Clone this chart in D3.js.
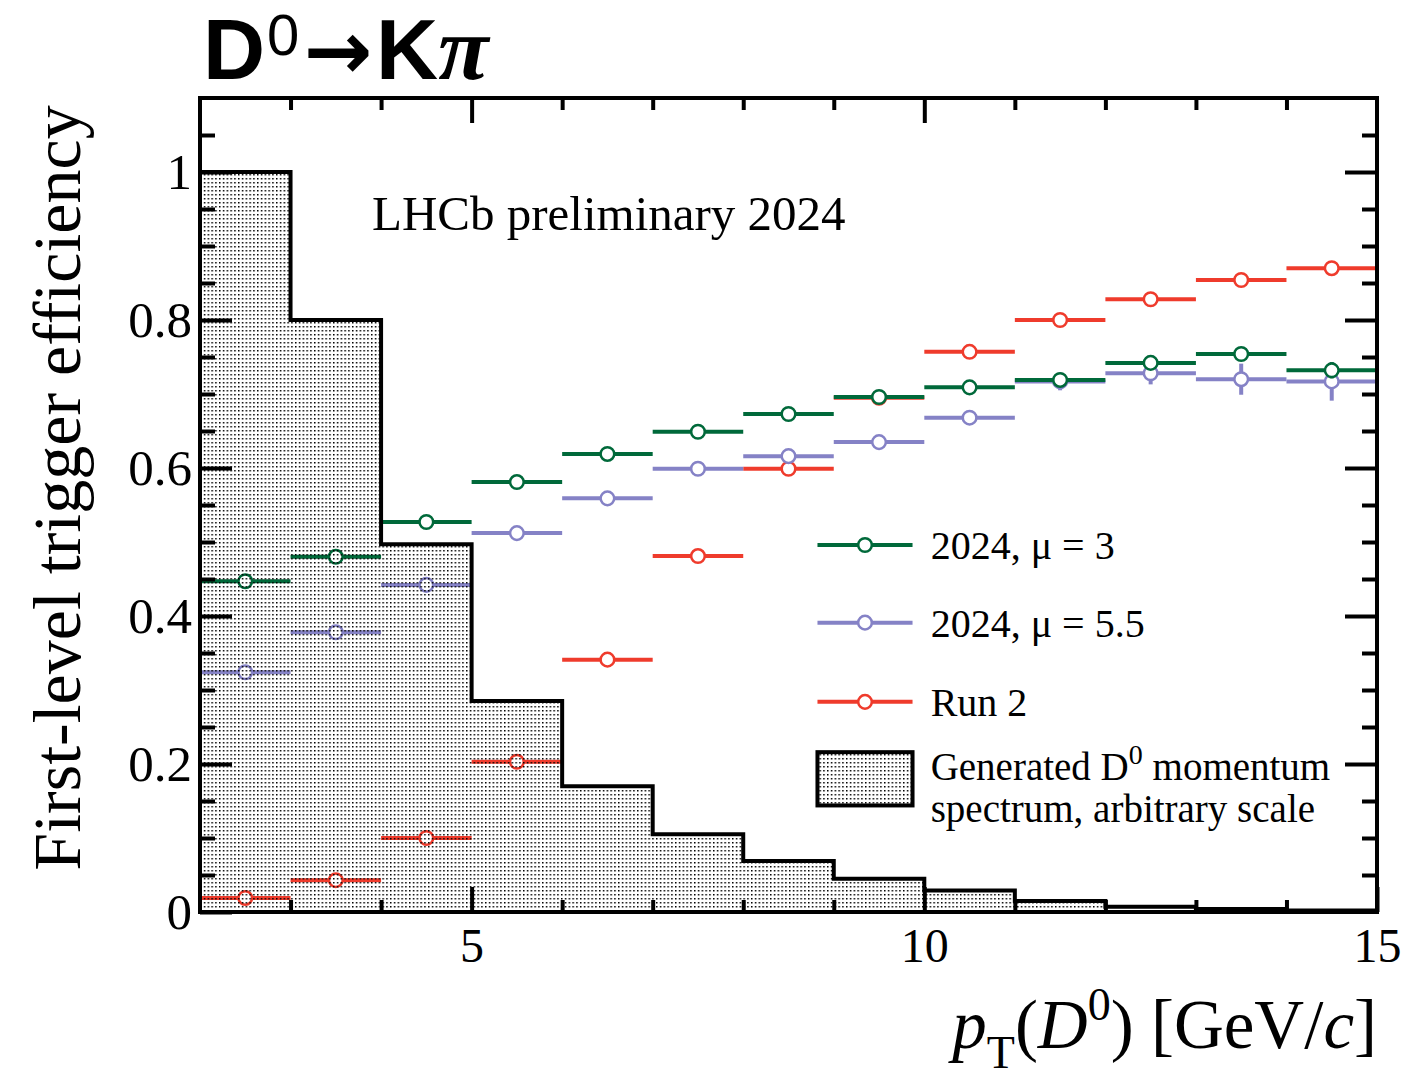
<!DOCTYPE html>
<html>
<head>
<meta charset="utf-8">
<script src="https://cdn.jsdelivr.net/npm/d3@7"></script>
<style>
  body { margin: 0; background: #fff; }
  svg text { font-family: "Liberation Serif", "Times New Roman", serif; fill: #000; }
</style>
</head>
<body>
<div id="chart"></div>
<script>
// bin edges in pT [GeV/c]
var binEdges = [2, 3, 4, 5, 6, 7, 8, 9, 10, 11, 12, 13, 14, 15];
// generated D0 spectrum, arbitrary scale
var histValues = [1.0, 0.8, 0.497, 0.285, 0.170, 0.105, 0.069, 0.045, 0.029, 0.015, 0.007, 0.004, 0.002];
// efficiencies per bin
var mu3Values = [0.447, 0.480, 0.527, 0.581, 0.619, 0.649, 0.673, 0.696, 0.709, 0.719, 0.742, 0.754, 0.732];
var mu3Errors = [0.004, 0.004, 0.004, 0.004, 0.004, 0.004, 0.005, 0.005, 0.006, 0.006, 0.008, 0.009, 0.011];
var mu55Values = [0.324, 0.378, 0.442, 0.512, 0.559, 0.599, 0.616, 0.635, 0.668, 0.717, 0.728, 0.720, 0.717];
var mu55Errors = [0.004, 0.004, 0.004, 0.004, 0.004, 0.005, 0.005, 0.006, 0.008, 0.012, 0.015, 0.021, 0.026];
var run2Values = [0.019, 0.043, 0.100, 0.203, 0.341, 0.481, 0.599, 0.695, 0.757, 0.800, 0.828, 0.854, 0.870];
var run2Errors = [0.002, 0.002, 0.002, 0.002, 0.002, 0.002, 0.003, 0.003, 0.003, 0.003, 0.004, 0.004, 0.005];

var seriesNames = ["2024, \u03bc = 3", "2024, \u03bc = 5.5", "Run 2"];
var seriesColors = ["#00693a", "#8582c6", "#ef3b2c"];
var yTickLabels = ["0", "0.2", "0.4", "0.6", "0.8", "1"];
var xTickLabels = ["5", "10", "15"];

var svgWidth = 1411;
var svgHeight = 1076;
var margin = {top: 98, right: 34, bottom: 164, left: 200};
var width = svgWidth - margin.left - margin.right;
var height = svgHeight - margin.top - margin.bottom;

var svg = d3.select("#chart")
    .append("svg")
    .attr("width", svgWidth)
    .attr("height", svgHeight);

var defs = svg.append("defs");
var pat = defs.append("pattern")
    .attr("id", "dots")
    .attr("patternUnits", "userSpaceOnUse")
    .attr("width", 3.8)
    .attr("height", 4);
pat.append("rect").attr("x", 0).attr("y", 0).attr("width", 1.5).attr("height", 1.5).attr("fill", "#000");

var chartGroup = svg.append("g")
    .attr("transform", `translate(${margin.left},${margin.top})`);

var xScale = d3.scaleLinear().domain([2, 15]).range([0, width]);
var yScale = d3.scaleLinear().domain([0, 1.1]).range([height, 0]);

// data series, drawn below the histogram
var seriesData = [
    {values: mu3Values, errors: mu3Errors},
    {values: mu55Values, errors: mu55Errors},
    {values: run2Values, errors: run2Errors}
];
// red first, then purple, then green on top
[2, 1, 0].forEach(function(si) {
    var s = seriesData[si];
    var col = seriesColors[si];
    var rows = s.values.map(function(v, i) {
        return {lo: binEdges[i], hi: binEdges[i + 1], v: v, e: s.errors[i]};
    });
    var g = chartGroup.append("g");
    g.selectAll("line.h").data(rows).enter().append("line")
        .attr("x1", d => xScale(d.lo))
        .attr("x2", d => xScale(d.hi))
        .attr("y1", d => yScale(d.v))
        .attr("y2", d => yScale(d.v))
        .attr("stroke", col).attr("stroke-width", 4);
    g.selectAll("line.v").data(rows).enter().append("line")
        .attr("x1", d => xScale((d.lo + d.hi) / 2))
        .attr("x2", d => xScale((d.lo + d.hi) / 2))
        .attr("y1", d => yScale(d.v - d.e))
        .attr("y2", d => yScale(d.v + d.e))
        .attr("stroke", col).attr("stroke-width", 4);
    g.selectAll("circle").data(rows).enter().append("circle")
        .attr("cx", d => xScale((d.lo + d.hi) / 2))
        .attr("cy", d => yScale(d.v))
        .attr("r", 6.8)
        .attr("fill", "#fff")
        .attr("stroke", col).attr("stroke-width", 2.5);
});

// histogram
var histPts = histValues.map(function(v, i) { return {x: binEdges[i], v: v}; });
histPts.push({x: binEdges[binEdges.length - 1], v: histValues[histValues.length - 1]});

var area = d3.area().curve(d3.curveStepAfter)
    .x(d => xScale(d.x)).y0(yScale(0)).y1(d => yScale(d.v));
chartGroup.append("path").datum(histPts)
    .attr("d", area).attr("fill", "url(#dots)");

var stepLine = d3.line().curve(d3.curveStepAfter)
    .x(d => xScale(d.x)).y(d => yScale(d.v));
chartGroup.append("path").datum(histPts)
    .attr("d", stepLine).attr("fill", "none")
    .attr("stroke", "#000").attr("stroke-width", 4);

// axes - ticks inward on all four sides
function styleAxis(sel) {
    sel.select(".domain").remove();
    sel.selectAll(".tick line").attr("stroke", "#000").attr("stroke-width", 4);
    sel.selectAll("text").attr("font-size", 48).attr("font-family", "Liberation Serif");
}
var minorX = d3.range(3, 15, 1).filter(v => v % 5 !== 0);
var minorY = d3.range(0.05, 1.1, 0.05).filter(v => Math.abs(v * 5 - Math.round(v * 5)) > 1e-6);

chartGroup.append("g").attr("transform", `translate(0,${height})`)
    .call(d3.axisBottom(xScale).tickValues(minorX).tickSize(-12).tickFormat(""))
    .call(styleAxis);
chartGroup.append("g").attr("transform", `translate(0,${height})`)
    .call(d3.axisBottom(xScale).tickValues([5, 10, 15]).tickSize(-25).tickPadding(14)
        .tickFormat((d, i) => xTickLabels[i]))
    .call(styleAxis)
    .selectAll("text").attr("dy", "0.75em");
chartGroup.append("g")
    .call(d3.axisTop(xScale).tickValues(minorX).tickSize(-12).tickFormat(""))
    .call(styleAxis);
chartGroup.append("g")
    .call(d3.axisTop(xScale).tickValues([5, 10]).tickSize(-25).tickFormat(""))
    .call(styleAxis);

chartGroup.append("g")
    .call(d3.axisLeft(yScale).tickValues(minorY).tickSize(-15).tickFormat(""))
    .call(styleAxis);
chartGroup.append("g")
    .call(d3.axisLeft(yScale).tickValues([0, 0.2, 0.4, 0.6, 0.8, 1]).tickSize(-32).tickPadding(8)
        .tickFormat((d, i) => yTickLabels[i]))
    .call(styleAxis)
    .selectAll("text").attr("font-size", 51);
chartGroup.append("g").attr("transform", `translate(${width},0)`)
    .call(d3.axisRight(yScale).tickValues(minorY).tickSize(-15).tickFormat(""))
    .call(styleAxis);
chartGroup.append("g").attr("transform", `translate(${width},0)`)
    .call(d3.axisRight(yScale).tickValues([0.2, 0.4, 0.6, 0.8, 1]).tickSize(-32).tickFormat(""))
    .call(styleAxis);

// frame
chartGroup.append("rect")
    .attr("x", 0).attr("y", 0).attr("width", width).attr("height", height)
    .attr("fill", "none").attr("stroke", "#000").attr("stroke-width", 4);

// LHCb label
chartGroup.append("text")
    .attr("x", xScale(3.9)).attr("y", yScale(0.922))
    .attr("font-size", 49)
    .text("LHCb preliminary 2024");

// legend
var legX0 = xScale(8.82), legX1 = xScale(9.87), legTx = xScale(10.07);
var legRows = [0.496, 0.391, 0.284];
legRows.forEach(function(ly, i) {
    var yy = yScale(ly);
    chartGroup.append("line").attr("x1", legX0).attr("x2", legX1)
        .attr("y1", yy).attr("y2", yy)
        .attr("stroke", seriesColors[i]).attr("stroke-width", 4);
    chartGroup.append("circle").attr("cx", (legX0 + legX1) / 2).attr("cy", yy).attr("r", 6.8)
        .attr("fill", "#fff").attr("stroke", seriesColors[i]).attr("stroke-width", 2.5);
    chartGroup.append("text").attr("x", legTx).attr("y", yy + 14)
        .attr("font-size", 40).text(seriesNames[i]);
});
chartGroup.append("rect")
    .attr("x", legX0).attr("y", yScale(0.216))
    .attr("width", legX1 - legX0).attr("height", yScale(0.144) - yScale(0.216))
    .attr("fill", "url(#dots)").attr("stroke", "#000").attr("stroke-width", 4);
var gen = chartGroup.append("text").attr("x", legTx).attr("y", yScale(0.178)).attr("font-size", 39);
gen.append("tspan").text("Generated D");
gen.append("tspan").attr("dy", -16).attr("font-size", 28).text("0");
gen.append("tspan").attr("dy", 16).text(" momentum");
chartGroup.append("text").attr("x", legTx).attr("y", yScale(0.122)).attr("font-size", 39)
    .text("spectrum, arbitrary scale");

// y label
svg.append("text")
    .attr("transform", "translate(80,488) rotate(-90)")
    .attr("text-anchor", "middle")
    .attr("font-size", 68)
    .text("First-level trigger efficiency");

// x label
var xl = svg.append("text")
    .attr("x", margin.left + width).attr("y", 1048)
    .attr("text-anchor", "end")
    .attr("font-size", 69);
xl.append("tspan").attr("font-style", "italic").text("p");
xl.append("tspan").attr("dy", 20).attr("font-size", 46).text("T");
xl.append("tspan").attr("dy", -20).text("(");
xl.append("tspan").attr("font-style", "italic").text("D");
xl.append("tspan").attr("dy", -28).attr("font-size", 46).text("0");
xl.append("tspan").attr("dy", 28).text(") [GeV/");
xl.append("tspan").attr("font-style", "italic").text("c");
xl.append("tspan").text("]");

// title
var title = svg.append("text")
    .attr("x", 203).attr("y", 79)
    .style("font-family", "'Liberation Sans', Arial, sans-serif")
    .attr("font-weight", "bold")
    .attr("font-size", 86);
title.append("tspan").text("D");
title.append("tspan").attr("dx", 2).attr("dy", -24).attr("font-size", 58).attr("font-weight", "normal").text("0");
title.append("tspan").attr("dx", 4).attr("dy", 24)
    .style("font-family", "'DejaVu Sans', sans-serif").attr("font-size", 82).text("\u2192");
title.append("tspan").attr("dx", 4).text("K");
title.append("tspan").style("font-family", "'Liberation Serif', serif").attr("font-style", "italic")
    .attr("font-size", 92).text("\u03c0");
</script>
</body>
</html>
